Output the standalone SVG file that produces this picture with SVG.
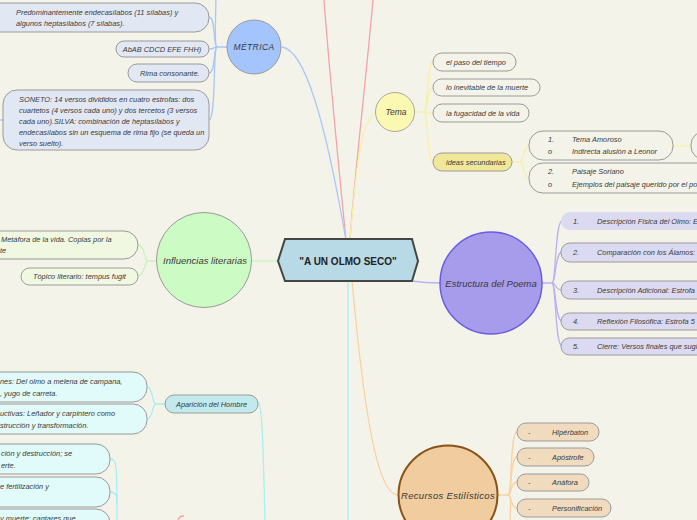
<svg xmlns="http://www.w3.org/2000/svg" width="697" height="520" viewBox="0 0 697 520">
<defs>
<style>
text{font-family:"Liberation Sans",Arial,sans-serif;font-style:italic;fill:#3a3a3a;font-size:7.4px}
.big{font-size:9.5px}
.c{text-anchor:middle}
.title{font-style:normal;font-weight:bold;font-size:10px;fill:#222}
.box{stroke:#9a9a9a;stroke-width:1}
.ln{fill:none;stroke-width:1.3}
.blue{stroke:#a9c7f7}.yel{stroke:#f6f1a4}.pink{stroke:#f5a3a9}.grn{stroke:#c6f5c0}
.pur{stroke:#bab1f3}.cyan{stroke:#a8eff4}.org{stroke:#fbd2a0}
</style>
</defs>
<rect width="697" height="520" fill="#f4f3e9"/>
<g id="connectors">
<path class="ln pink" d="M324 0 C330 80 340 180 346 240"/>
<path class="ln pink" d="M373 0 C366 80 354 180 350 240"/>
<path class="ln pink" d="M178 520 C179 517 181 516 184 516"/>
<path class="ln blue" d="M282 47 C305 50 325 120 346 240"/>
<path class="ln yel" d="M350 240 C355 180 360 120 376 112"/>
<path class="ln cyan" d="M348 281 L348 520"/>
<path class="ln org" d="M352 281 C362 390 375 495 398 495"/>
<path class="ln grn" d="M278 261 L252 261"/>
<path class="ln pur" d="M412 281 C425 283 430 283 440 283"/>
<!-- Estructura -->
<path class="ln pur" d="M542 283 L552 283 C556 283 555 221 562 221"/>
<path class="ln pur" d="M552 283 C556 283 555 252 562 252"/>
<path class="ln pur" d="M552 283 C556 283 555 290 562 290"/>
<path class="ln pur" d="M552 283 C556 283 555 321 562 321"/>
<path class="ln pur" d="M552 283 C556 283 555 346 562 346"/>
<!-- Tema -->
<path class="ln yel" d="M415 112 L424 112 C428 112 427 62 433 62"/>
<path class="ln yel" d="M424 112 C428 112 427 87 433 87"/>
<path class="ln yel" d="M424 112 C428 112 427 113 433 113"/>
<path class="ln yel" d="M424 112 C428 112 427 162 433 162"/>
<path class="ln yel" d="M512 162 L520 162 C524 162 523 146 529 146"/>
<path class="ln yel" d="M520 162 C524 162 523 178 529 178"/>
<path class="ln yel" d="M673 146 L691 146"/>
<!-- METRICA -->
<path class="ln blue" d="M227 47 L217 47 C213 47 216 17 209 17"/>
<path class="ln blue" d="M217 47 C213 47 215 49 209 49"/>
<path class="ln blue" d="M217 47 C213 47 216 73 209 73"/>
<path class="ln blue" d="M217 47 C213 47 216 120 209 120"/>
<path class="ln blue" d="M217 47 C214 47 216 10 216 -5"/>
<path class="ln blue" d="M0 120 L3 120"/>
<!-- Influencias -->
<path class="ln grn" d="M157 261 L148 261 C144 261 145 245 138 245"/>
<path class="ln grn" d="M148 261 C144 261 145 276 138 276"/>
<!-- Aparicion -->
<path class="ln cyan" d="M165 404 L156 404 C152 404 153 387 147 387"/>
<path class="ln cyan" d="M156 404 C152 404 153 419 147 419"/>
<path class="ln cyan" d="M258 402 C262 404 263 440 265 520"/>
<path class="ln cyan" d="M110 459 C117 459 117 466 117 520"/>
<path class="ln cyan" d="M110 492 C117 492 117 497 117 505"/>
<!-- Recursos -->
<path class="ln org" d="M498 495 L508 495 C512 495 510 432 517 432"/>
<path class="ln org" d="M508 495 C512 495 510 457 517 457"/>
<path class="ln org" d="M508 495 C512 495 510 482 517 482"/>
<path class="ln org" d="M508 495 C512 495 510 508 517 508"/>
<path class="ln org" d="M508 495 C512 495 510 510 510 525"/>
</g>
<g id="central">
<polygon points="278,261 285,239 412,239 418,261 412,281 285,281" fill="#b8d9e6" stroke="#454545" stroke-width="2"/>
<text class="title c" x="348" y="264.5">"A UN OLMO SECO"</text>
</g>
<g id="estructura">
<circle cx="491" cy="283" r="51" fill="#a79beb" stroke="#6a5ce0" stroke-width="1.5"/>
<text class="big c" x="491" y="286.5">Estructura del Poema</text>
</g>
<g id="estructura-1"><rect x="561" y="212" width="200" height="18" rx="9" fill="#dcdaf0"/><text x="573" y="223.5">1.</text><text x="597" y="223.5">Descripción Física del Olmo: Es</text></g>
<g id="estructura-2"><rect class="box" x="561" y="243" width="200" height="19" rx="9" fill="#dcdaf0"/><text x="573" y="255">2.</text><text x="597" y="255">Comparación con los Álamos: E</text></g>
<g id="estructura-3"><rect class="box" x="561" y="281" width="200" height="18" rx="9" fill="#dcdaf0"/><text x="573" y="292.5">3.</text><text x="597" y="292.5">Descripción Adicional: Estrofa</text></g>
<g id="estructura-4"><rect class="box" x="561" y="313" width="200" height="17" rx="8.5" fill="#dcdaf0"/><text x="573" y="324">4.</text><text x="597" y="324">Reflexión Filosófica: Estrofa 5</text></g>
<g id="estructura-5"><rect class="box" x="561" y="338" width="200" height="17" rx="8.5" fill="#dcdaf0"/><text x="573" y="349">5.</text><text x="597" y="349">Cierre: Versos finales que sugieren</text></g>
<g id="tema">
<circle cx="395" cy="112" r="19.5" fill="#fbf8b1" stroke="#a8a8a0" stroke-width="1"/>
<text class="c" x="396" y="115" style="font-size:8.5px">Tema</text>
</g>
<g id="tema-1"><rect class="box" x="433" y="53" width="83" height="18" rx="9" fill="#f4f3e9"/><text x="446" y="64.5">el paso del tiempo</text></g>
<g id="tema-2"><rect class="box" x="433" y="79" width="107" height="17" rx="8.5" fill="#f4f3e9"/><text x="446" y="90">lo inevitable de la muerte</text></g>
<g id="tema-3"><rect class="box" x="433" y="104" width="96" height="18" rx="9" fill="#f4f3e9"/><text x="446" y="115.5">la fugacidad de la vida</text></g>
<g id="tema-4"><rect class="box" x="433" y="153" width="79" height="18" rx="9" fill="#f0e799"/><text x="446" y="164.5">ideas secundarias</text></g>
<g id="tema-4-1"><rect class="box" x="529" y="131" width="144" height="29" rx="14" fill="#f4f3e9"/><text x="548" y="141.5">1.</text><text x="572" y="141.5">Tema Amoroso</text><text x="548" y="154">o</text><text x="572" y="154">Indirecta alusión a Leonor</text></g>
<g id="tema-4-1-1"><rect class="box" x="691" y="131" width="60" height="29" rx="14" fill="#f4f3e9"/></g>
<g id="tema-4-2"><rect class="box" x="529" y="163" width="200" height="30" rx="14" fill="#f4f3e9"/><text x="548" y="174">2.</text><text x="572" y="174">Paisaje Soriano</text><text x="548" y="186.5">o</text><text x="572" y="186.5">Ejemplos del paisaje querido por el poeta</text></g>
<g id="metrica">
<circle cx="254" cy="47" r="27" fill="#a3c4fc" stroke="#9a9a9a" stroke-width="1"/>
<text class="c" x="254" y="50" style="font-size:8.5px;letter-spacing:0.4px">MÉTRICA</text>
</g>
<g id="metrica-1"><rect class="box" x="-20" y="3" width="229" height="29" rx="14" fill="#e2e7f4"/><text x="16" y="14.5">Predominantemente endecasílabos (11 sílabas) y</text><text x="16" y="26">algunos heptasílabos (7 sílabas).</text></g>
<g id="metrica-2"><rect class="box" x="116" y="41" width="93" height="16" rx="8" fill="#e2e7f4"/><text class="c" x="162" y="51.5">AbAB CDCD EFE FHH)</text></g>
<g id="metrica-3"><rect class="box" x="128" y="64" width="81" height="18" rx="9" fill="#e2e7f4"/><text x="140" y="75.5">Rima consonante.</text></g>
<g id="metrica-4"><rect class="box" x="3" y="90" width="206" height="60" rx="14" fill="#e2e7f4"/>
<text x="19" y="101.5">SONETO: 14 versos divididos en cuatro estrofas: dos</text>
<text x="19" y="112.5">cuartetos (4 versos cada uno) y dos tercetos (3 versos</text>
<text x="19" y="123.5">cada uno).SILVA: combinación de heptasílabos y</text>
<text x="19" y="134.5">endecasílabos sin un esquema de rima fijo (se queda un</text>
<text x="19" y="145.5">verso suelto).</text></g>
<g id="influencias">
<circle cx="204" cy="260" r="47.5" fill="#ccfcc4" stroke="#9a9a9a" stroke-width="1"/>
<text class="big c" x="205" y="263.5">Influencias literarias</text>
</g>
<g id="influencias-1"><rect class="box" x="-20" y="231" width="158" height="28" rx="14" fill="#f0f8e2"/><text x="1" y="241.5">Metáfora de la vida. Coplas por la</text><text x="0" y="253">te</text></g>
<g id="influencias-2"><rect class="box" x="21" y="268" width="117" height="17" rx="8.5" fill="#f0f8e2"/><text x="33" y="279">Tópico literario: tempus fugit</text></g>
<g id="aparicion"><rect class="box" x="165" y="395" width="93" height="18" rx="9" fill="#c2e9ec"/><text class="c" x="211.5" y="406.5">Aparición del Hombre</text></g>
<g id="aparicion-1"><rect class="box" x="-20" y="372" width="167" height="30" rx="14" fill="#e0fbfa"/><text x="0" y="383.5">nes: Del olmo a melena de campana,</text><text x="0" y="395.5">, yugo de carreta.</text></g>
<g id="aparicion-2"><rect class="box" x="-20" y="404" width="167" height="30" rx="14" fill="#e0fbfa"/><text x="0" y="415.5">uctivas: Leñador y carpintero como</text><text x="0" y="427.5">strucción y transformación.</text></g>
<g id="muerte-1"><rect class="box" x="-20" y="444" width="130" height="30" rx="14" fill="#e0fbfa"/><text x="1" y="455.5">ción y destrucción; se</text><text x="1" y="467.5">erte.</text></g>
<g id="muerte-2"><rect class="box" x="-20" y="477" width="130" height="30" rx="14" fill="#e0fbfa"/><text x="0" y="488.5">e fertilización y</text></g>
<g id="muerte-3"><rect class="box" x="-20" y="509" width="130" height="30" rx="14" fill="#e0fbfa"/><text x="0" y="521">y muerte: cantares que</text></g>
<g id="recursos">
<circle cx="448" cy="495" r="49.5" fill="#f0cc9e" stroke="#8a5418" stroke-width="2"/>
<text class="big c" x="448" y="498.5" style="letter-spacing:0.3px">Recursos Estilísticos</text>
</g>
<g id="recursos-1"><rect class="box" x="517" y="423" width="82" height="18" rx="9" fill="#f0dbbf"/><text x="528" y="434.5">-</text><text x="552" y="434.5">Hipérbaton</text></g>
<g id="recursos-2"><rect class="box" x="517" y="448" width="77" height="18" rx="9" fill="#f0dbbf"/><text x="528" y="459.5">-</text><text x="552" y="459.5">Apóstrofe</text></g>
<g id="recursos-3"><rect class="box" x="517" y="474" width="72" height="17" rx="8.5" fill="#f0dbbf"/><text x="528" y="485">-</text><text x="552" y="485">Anáfora</text></g>
<g id="recursos-4"><rect class="box" x="517" y="499" width="94" height="18" rx="9" fill="#f0dbbf"/><text x="528" y="510.5">-</text><text x="552" y="510.5">Personificación</text></g>
</svg>
